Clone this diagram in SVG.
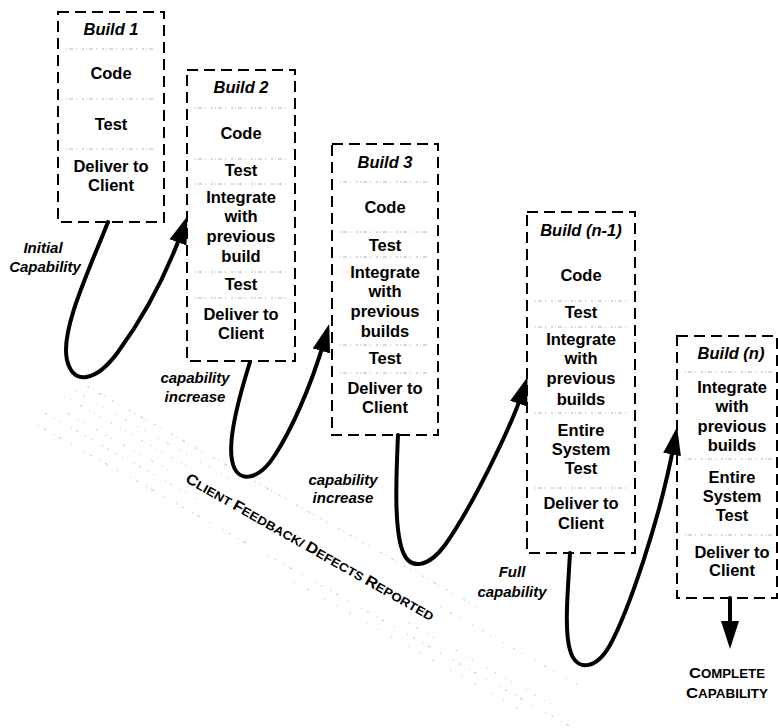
<svg xmlns="http://www.w3.org/2000/svg" width="778" height="728" viewBox="0 0 778 728">
  <defs>
    <style>
      .box { fill: none; stroke: #000; stroke-width: 2; stroke-dasharray: 11 6; }
      .sep { stroke: #a0a0a0; stroke-width: 0.8; stroke-dasharray: 1 2 4 3 1 5 2 2; }
      .t { font-family: "Liberation Sans", Arial, sans-serif; font-weight: bold; font-size: 16.5px; text-anchor: middle; fill: #000; }
      .title { font-style: italic; }
      .lbl { font-family: "Liberation Sans", Arial, sans-serif; font-weight: bold; font-style: italic; font-size: 15px; text-anchor: middle; fill: #000; }
      .caps { font-family: "Liberation Sans", Arial, sans-serif; font-weight: bold; font-size: 12px; text-anchor: middle; fill: #000; }
      .big { font-size: 15px; }
      .flow { fill: none; stroke: #000; stroke-width: 4; stroke-linecap: round; }
      .speck { fill: none; stroke: #808080; stroke-width: 0.8; opacity: 0.6; }
    </style>
    <marker id="head" markerUnits="userSpaceOnUse" markerWidth="28" markerHeight="18" viewBox="0 0 28 18" refX="13" refY="9" orient="auto">
      <path d="M0,0 L28,9 L0,18 z" fill="#000"/>
    </marker>
  </defs>
  <rect width="778" height="728" fill="#fff"/>

  <!-- feedback band: speckled strip running down to the right -->
  <g id="feedback-band" transform="translate(37,427) rotate(29.5)">
    <line class="speck" x1="24" y1="-60" x2="470" y2="-60" stroke-dasharray="2 4 1 6 3 3 1 8 2 5 1 12"/>
    <line class="speck" x1="15" y1="-50" x2="200" y2="-50" stroke-dasharray="1 9 2 12 1 7 1 15"/>
    <line class="speck" x1="8" y1="-40" x2="160" y2="-40" stroke-dasharray="1 6 1 11 2 9 1 4"/>
    <line class="speck" x1="20" y1="-27" x2="140" y2="-27" stroke-dasharray="2 10 1 5 1 13"/>
    <line class="speck" x1="440" y1="-42" x2="600" y2="-42" stroke-dasharray="1 10 2 8 1 14"/>
    <line class="speck" x1="0" y1="-16" x2="180" y2="-16" stroke-dasharray="2 8 1 6 1 12 1 5"/>
    <line class="speck" x1="420" y1="-12" x2="590" y2="-12" stroke-dasharray="1 8 2 10 1 6 1 16"/>
    <line class="speck" x1="0" y1="-2" x2="610" y2="-2" stroke-dasharray="1 6 2 9 1 5 3 11 1 14"/>
    <line class="speck" x1="300" y1="8" x2="560" y2="8" stroke-dasharray="1 14 2 18 1 12"/>
  </g>
  <text class="caps" transform="translate(310,547) rotate(29.6)" x="0" y="5" textLength="283" lengthAdjust="spacingAndGlyphs"><tspan class="big">C</tspan>LIENT <tspan class="big">F</tspan>EEDBACK/ <tspan class="big">D</tspan>EFECTS <tspan class="big">R</tspan>EPORTED</text>

  <!-- builds -->
  <g id="build-1">
    <rect class="box" x="58" y="12" width="106" height="210"/>
    <line class="sep" x1="66" y1="49" x2="156" y2="49"/>
    <line class="sep" x1="66" y1="99" x2="156" y2="99"/>
    <line class="sep" x1="66" y1="149" x2="156" y2="149"/>
    <text class="t title" x="111" y="34.5">Build 1</text>
    <text class="t" x="111" y="78.5">Code</text>
    <text class="t" x="111" y="129.5">Test</text>
    <text class="t" x="111" y="171.5">Deliver to</text>
    <text class="t" x="111" y="190.5">Client</text>
  </g>

  <g id="build-2">
    <rect class="box" x="187" y="70" width="108" height="291"/>
    <line class="sep" x1="195" y1="108" x2="287" y2="108"/>
    <line class="sep" x1="195" y1="159" x2="287" y2="159"/>
    <line class="sep" x1="195" y1="184" x2="287" y2="184"/>
    <line class="sep" x1="195" y1="272" x2="287" y2="272"/>
    <line class="sep" x1="195" y1="298" x2="287" y2="298"/>
    <text class="t title" x="241" y="92.5">Build 2</text>
    <text class="t" x="241" y="138.5">Code</text>
    <text class="t" x="241" y="175.5">Test</text>
    <text class="t" x="241" y="202.5">Integrate</text>
    <text class="t" x="241" y="222">with</text>
    <text class="t" x="241" y="241.5">previous</text>
    <text class="t" x="241" y="261.5">build</text>
    <text class="t" x="241" y="289.5">Test</text>
    <text class="t" x="241" y="319.5">Deliver to</text>
    <text class="t" x="241" y="338.5">Client</text>
  </g>

  <g id="build-3">
    <rect class="box" x="332" y="144" width="106" height="291"/>
    <line class="sep" x1="340" y1="182" x2="430" y2="182"/>
    <line class="sep" x1="340" y1="232" x2="430" y2="232"/>
    <line class="sep" x1="340" y1="257" x2="430" y2="257"/>
    <line class="sep" x1="340" y1="345" x2="430" y2="345"/>
    <line class="sep" x1="340" y1="373" x2="430" y2="373"/>
    <text class="t title" x="385" y="167.5">Build 3</text>
    <text class="t" x="385" y="212.5">Code</text>
    <text class="t" x="385" y="250.5">Test</text>
    <text class="t" x="385" y="277.5">Integrate</text>
    <text class="t" x="385" y="297">with</text>
    <text class="t" x="385" y="316.5">previous</text>
    <text class="t" x="385" y="336.5">builds</text>
    <text class="t" x="385" y="363.5">Test</text>
    <text class="t" x="385" y="393.5">Deliver to</text>
    <text class="t" x="385" y="412.5">Client</text>
  </g>

  <g id="build-n-1">
    <rect class="box" x="527" y="212" width="108" height="341"/>
    <line class="sep" x1="535" y1="301" x2="627" y2="301"/>
    <line class="sep" x1="535" y1="327" x2="627" y2="327"/>
    <line class="sep" x1="535" y1="413" x2="627" y2="413"/>
    <line class="sep" x1="535" y1="488" x2="627" y2="488"/>
    <text class="t title" x="581" y="235.5">Build (n-1)</text>
    <text class="t" x="581" y="280.5">Code</text>
    <text class="t" x="581" y="317.5">Test</text>
    <text class="t" x="581" y="344.5">Integrate</text>
    <text class="t" x="581" y="364">with</text>
    <text class="t" x="581" y="384">previous</text>
    <text class="t" x="581" y="404.5">builds</text>
    <text class="t" x="581" y="435.5">Entire</text>
    <text class="t" x="581" y="455">System</text>
    <text class="t" x="581" y="474">Test</text>
    <text class="t" x="581" y="508.5">Deliver to</text>
    <text class="t" x="581" y="528.5">Client</text>
  </g>

  <g id="build-n">
    <rect class="box" x="677" y="336" width="100" height="262"/>
    <line class="sep" x1="685" y1="372" x2="772" y2="372"/>
    <line class="sep" x1="685" y1="459" x2="772" y2="459"/>
    <line class="sep" x1="685" y1="535" x2="772" y2="535"/>
    <text class="t title" x="731" y="358.5">Build (n)</text>
    <text class="t" x="732" y="392.5">Integrate</text>
    <text class="t" x="732" y="412">with</text>
    <text class="t" x="732" y="431.5">previous</text>
    <text class="t" x="732" y="450.5">builds</text>
    <text class="t" x="732" y="482.5">Entire</text>
    <text class="t" x="732" y="502">System</text>
    <text class="t" x="732" y="520.5">Test</text>
    <text class="t" x="732" y="557.5">Deliver to</text>
    <text class="t" x="732" y="575.5">Client</text>
  </g>

  <!-- connectors: loops between consecutive builds -->
  <g id="connectors">
    <path class="flow" marker-end="url(#head)" d="M108,222 C90,268 60,330 67,360 C73,386 96,382 118,352 C145,315 168,270 182.4,230.2"/>
    <path class="flow" marker-end="url(#head)" d="M250,362 C238,400 228,440 232,460 C236,484 258,482 275,455 C290,432 310,390 325,338.4"/>
    <path class="flow" marker-end="url(#head)" d="M398,435 C396,480 394,530 403,552 C410,570 428,568 445,545 C470,510 510,430 522.8,391.3"/>
    <path class="flow" marker-end="url(#head)" d="M570,553 C568,590 564,630 570,650 C576,672 596,670 610,645 C628,612 660,520 674.4,441.7"/>
    <path class="flow" marker-end="url(#head)" d="M730,598 L730,634"/>
  </g>

  <!-- labels -->
  <g id="labels">
    <text class="lbl" x="43" y="252.5">Initial</text>
    <text class="lbl" x="45" y="272">Capability</text>
    <text class="lbl" x="195" y="383">capability</text>
    <text class="lbl" x="195" y="402">increase</text>
    <text class="lbl" x="343" y="485">capability</text>
    <text class="lbl" x="343" y="503">increase</text>
    <text class="lbl" x="512" y="577">Full</text>
    <text class="lbl" x="512" y="597">capability</text>
    <text class="caps" x="727" y="678" textLength="76" lengthAdjust="spacingAndGlyphs"><tspan class="big">C</tspan>OMPLETE</text>
    <text class="caps" x="727" y="698" textLength="82" lengthAdjust="spacingAndGlyphs"><tspan class="big">C</tspan>APABILITY</text>
  </g>
</svg>
